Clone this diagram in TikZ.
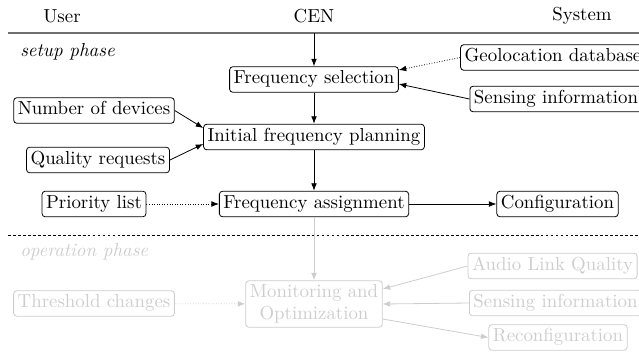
\documentclass[tikz,border=0pt]{standalone}
\usetikzlibrary{arrows.meta, calc, positioning}
\definecolor{opGrey}{HTML}{CDCDCD}
\definecolor{rule}{HTML}{707070}
\tikzset{
  stepbox/.style  = {draw, rounded corners=1.8pt, line width=0.45pt, inner sep=2.3pt,
                     text height=7.2pt, text depth=2.6pt, font=\fontsize{10.6}{12.2}\selectfont},
  twobox/.style   = {stepbox, align=center, text height=, text depth=},
  flow/.style     = {-{Latex[length=4.2pt, width=3.2pt]}, line width=0.45pt},
  optflow/.style  = {flow, densely dotted},
  head/.style     = {font=\fontsize{10.6}{12.2}\selectfont},
  phase/.style    = {font=\fontsize{10.6}{12.2}\selectfont\itshape, anchor=west},
  oper/.style     = {opGrey, draw=opGrey},
}

\begin{document}
\begin{tikzpicture}[x=0.5625pt, y=-0.5625pt]
\useasboundingbox (0,0) rectangle (639,352);
% column heads
\node[head] (user) at (62,16) {User};
\node[head] (cen) at (314,16) {CEN};
\node[head] (system) at (582,16) {System};
\draw[rule, line width=0.8pt] (8,33) -- (639,33);
\coordinate (start) at (314,33);

% setup phase
\node[phase] (setup) at (14,52) {setup phase};
\node[stepbox] (fsel) at (314,79.5) {Frequency selection};
\node[stepbox] (geodb) at (553,57.5) {Geolocation database};
\node[stepbox] (sensing) at (556,99) {Sensing information};
\node[stepbox] (ndev) at (94,110.5) {Number of devices};
\node[stepbox] (qreq) at (98,160) {Quality requests};
\node[stepbox] (initplan) at (314,137) {Initial frequency planning};
\node[stepbox] (prio) at (94,204) {Priority list};
\node[stepbox] (fassign) at (314,204) {Frequency assignment};
\node[stepbox] (config) at (557.5,204) {Configuration};

\draw[flow] (start) -- (fsel);
\draw[optflow] (geodb.west) -- ($(fsel.east)+(0,-9.5)$);
\draw[flow] (sensing.west) -- ($(fsel.east)+(0,4.5)$);
\draw[flow] (fsel) -- (initplan);
\draw[flow] (ndev.east) -- ($(initplan.west)+(0,-9)$);
\draw[flow] (qreq.east) -- ($(initplan.west)+(0,7)$);
\draw[flow] (initplan) -- (fassign);
\draw[optflow] (prio) -- (fassign);
\draw[flow] (fassign) -- (config);

\draw[dash pattern=on 1.6pt off 1.2pt, line width=0.5pt] (8,235) -- (639,235);

% operation phase
\node[phase, opGrey] (operation) at (14,252) {operation phase};
\node[twobox, oper] (monitor) at (314,304) {Monitoring and\\Optimization};
\node[stepbox, oper] (thresh) at (94,303.5) {Threshold changes};
\node[stepbox, oper] (audio) at (552.5,266) {Audio Link Quality};
\node[stepbox, oper] (sensing2) at (555.5,303) {Sensing information};
\node[stepbox, oper] (reconf) at (558,337.5) {Reconfiguration};

\draw[flow, opGrey] (fassign) -- (monitor);
\draw[optflow, opGrey] (thresh) -- (monitor);
\draw[flow, opGrey] (audio.west) -- ($(monitor.east)+(0,-15)$);
\draw[flow, opGrey] (sensing2.west) -- (monitor.east);
\draw[flow, opGrey] ($(monitor.east)+(0,15)$) -- (reconf.west);
\end{tikzpicture}
\end{document}
